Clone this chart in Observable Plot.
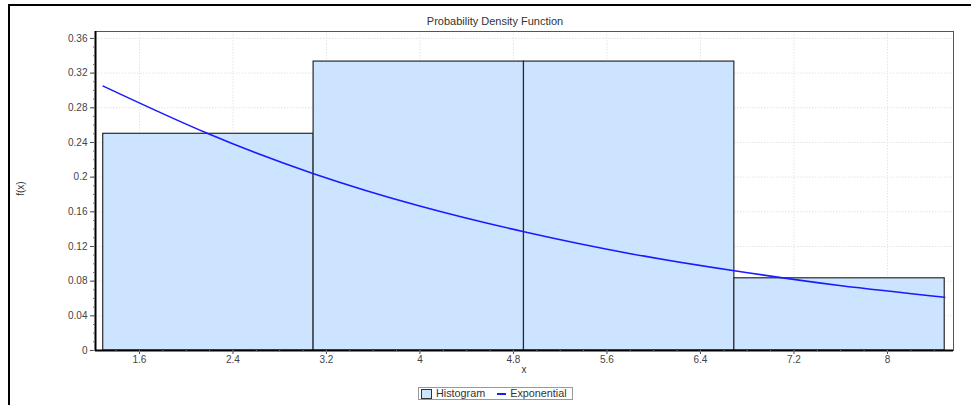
<!DOCTYPE html>
<html>
<head>
<meta charset="utf-8">
<script src="https://cdn.jsdelivr.net/npm/d3@7"></script>
<script src="https://cdn.jsdelivr.net/npm/@observablehq/plot@0.6"></script>
<style>
  html, body { margin: 0; padding: 0; background: #fff; overflow: hidden; }
  #wrap { position: relative; width: 971px; height: 405px; overflow: hidden; font-family: "Liberation Sans", Arial, sans-serif; }
  #outer { position: absolute; left: 8px; top: 4px; width: 1000px; height: 440px; border: 2px solid #000; box-sizing: border-box; pointer-events: none; }
  #title { position: absolute; top: 15px; left: 0; width: 990px; text-align: center; font-size: 11px; color: #333; }
  #xlabel { position: absolute; top: 364px; left: 519px; width: 10px; text-align: center; font-size: 10px; color: #333; }
  #ylabel { position: absolute; left: 8px; top: 183px; width: 24px; text-align: center; font-size: 10px; color: #333; transform: rotate(-90deg); }
  #legend { position: absolute; left: 418px; top: 387px; width: 155px; height: 13px; border: 1px solid #999; box-sizing: border-box; font-size: 10.8px; color: #333; display: flex; align-items: center; padding-left: 2px; line-height: 11px; white-space: nowrap; }
  #legend .sw { display: inline-block; width: 9px; height: 8px; border: 1px solid #333; background: #cce4ff; margin-right: 4px; }
  #legend .ln { display: inline-block; width: 9px; height: 2px; background: #1a1aff; margin: 0 4px 0 12px; }
  svg { position: absolute; left: 0; top: 0; }
</style>
</head>
<body>
<div id="wrap"></div>
<script>
// ---- data ----
const titleText = "Probability Density Function";
const xLabel = "x";
const yLabel = "f(x)";
const seriesNames = ["Histogram", "Exponential"];

const binStart = [1.29, 3.09, 4.89, 6.69];
const binEnd   = [3.09, 4.89, 6.69, 8.49];
const density  = [0.25, 0.3333, 0.3333, 0.0833];

const curveX = [1.29, 2.19, 3.09, 3.99, 4.89, 5.79, 6.69, 7.59, 8.49];
const curveY = [0.305, 0.250, 0.204, 0.167, 0.137, 0.112, 0.092, 0.075, 0.0615];

const xTicks = [1.6, 2.4, 3.2, 4, 4.8, 5.6, 6.4, 7.2, 8];
const xTickLabels = ["1.6", "2.4", "3.2", "4", "4.8", "5.6", "6.4", "7.2", "8"];
const yTicks = [0, 0.04, 0.08, 0.12, 0.16, 0.2, 0.24, 0.28, 0.32, 0.36];
const yTickLabels = ["0", "0.04", "0.08", "0.12", "0.16", "0.2", "0.24", "0.28", "0.32", "0.36"];

const xDomain = [1.224, 8.565];
const yDomain = [0, 0.368];

// ---- build ----
const bars = binStart.map((s, i) => ({x1: s, x2: binEnd[i], y: density[i]}));
const curve = curveX.map((x, i) => ({x, y: curveY[i]}));
const xMinor = d3.range(1.4, 8.5, 0.2).map(v => +v.toFixed(2));
const yMinor = d3.range(0, 0.365, 0.01).map(v => +v.toFixed(3));
const xFmt = d => xTickLabels[xTicks.findIndex(t => Math.abs(t - d) < 1e-9)];
const yFmt = d => yTickLabels[yTicks.findIndex(t => Math.abs(t - d) < 1e-9)];

const chart = Plot.plot({
  width: 971,
  height: 405,
  marginLeft: 95,
  marginRight: 18,
  marginTop: 31,
  marginBottom: 55,
  style: {fontFamily: "Liberation Sans, Arial, sans-serif", fontSize: "10px", background: "transparent"},
  x: {domain: xDomain, label: null},
  y: {domain: yDomain, label: null},
  marks: [
    Plot.gridX(xTicks, {stroke: "#e4e4e4", strokeOpacity: 1, strokeDasharray: "1.5,1.5"}),
    Plot.gridY(yTicks, {stroke: "#e4e4e4", strokeOpacity: 1, strokeDasharray: "1.5,1.5"}),
    Plot.rectY(bars, {x1: "x1", x2: "x2", y1: 0, y2: "y", fill: "#cce4ff", stroke: "#2a2a2a", strokeWidth: 1.2}),
    Plot.line(curve, {x: "x", y: "y", stroke: "#1a1aff", strokeWidth: 1.6, curve: "natural"}),
    Plot.frame({stroke: "#555"}),
    Plot.ruleY([yDomain[0]], {stroke: "#000", strokeWidth: 2}),
    Plot.ruleX([xDomain[0]], {stroke: "#000", strokeWidth: 2}),
    Plot.axisX(xTicks, {tickSize: 4, tickPadding: 1, tickFormat: xFmt, color: "#444", fontSize: 10}),
    Plot.axisX(xMinor, {tickSize: 2, tickFormat: () => "", color: "#777"}),
    Plot.axisY(yTicks, {tickSize: 5, tickPadding: 3, tickFormat: yFmt, color: "#444", fontSize: 10}),
    Plot.axisY(yMinor, {tickSize: 2, tickFormat: () => "", color: "#777"})
  ]
});

const wrap = document.getElementById("wrap");
wrap.appendChild(chart);

const outer = document.createElement("div"); outer.id = "outer"; wrap.appendChild(outer);
const t = document.createElement("div"); t.id = "title"; t.textContent = titleText; wrap.appendChild(t);
const xl = document.createElement("div"); xl.id = "xlabel"; xl.textContent = xLabel; wrap.appendChild(xl);
const yl = document.createElement("div"); yl.id = "ylabel"; yl.textContent = yLabel; wrap.appendChild(yl);
const lg = document.createElement("div"); lg.id = "legend";
lg.innerHTML = `<span class="sw"></span><span>${seriesNames[0]}</span><span class="ln"></span><span>${seriesNames[1]}</span>`;
wrap.appendChild(lg);
</script>
</body>
</html>
